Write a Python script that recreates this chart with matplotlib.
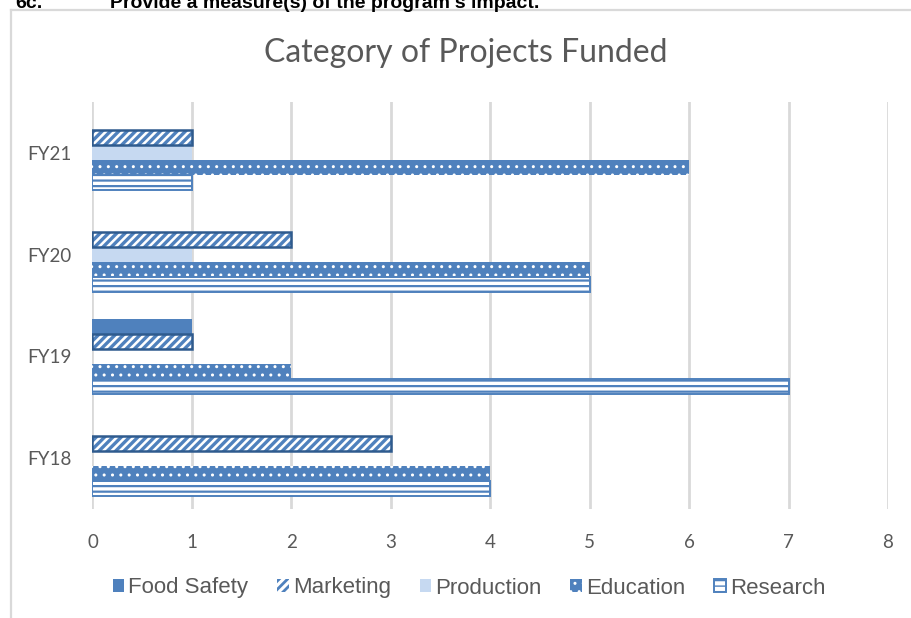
import matplotlib
matplotlib.use("Agg")
import matplotlib.pyplot as plt
from matplotlib.lines import Line2D
import numpy as np

# ---- data ----
categories = ["FY18", "FY19", "FY20", "FY21"]
series_names = ["Food Safety", "Marketing", "Production", "Education", "Research"]
food_safety = [0, 1, 0, 0]
marketing = [3, 1, 2, 1]
production = [0, 0, 1, 1]
education = [4, 2, 5, 6]
research = [4, 7, 5, 1]
x_ticks = [0, 1, 2, 3, 4, 5, 6, 7, 8]

title = "Category of Projects Funded"
header_num = "6c."
header_text = "Provide a measure(s) of the program\u2019s impact."

BLUE = "#4F81BD"
DARK = "#2F5B8E"
LIGHT = "#C6D9F1"
GRID = "#D9D9D9"
TXT = "#595959"

W, H = 912, 618
fig = plt.figure(figsize=(W / 100, H / 100), dpi=100)

ax_l, ax_r, ax_t, ax_b = 92.5, 888, 102, 509
ax = fig.add_axes([ax_l / W, 1 - ax_b / H, (ax_r - ax_l) / W, (ax_b - ax_t) / H])

y = np.arange(len(categories))
h = 0.147


def set_hlw(patches, lw):
    for p in patches:
        if hasattr(p, "set_hatch_linewidth"):
            p.set_hatch_linewidth(lw)
        else:
            p._hatch_linewidth = lw


handles = []
values = [food_safety, marketing, production, education, research]
for i, (name, vals) in enumerate(zip(series_names, values)):
    off = (2 - i) * h
    if name == "Food Safety":
        bars = ax.barh(y + off, vals, height=h, color=BLUE, linewidth=0, zorder=3)
    elif name == "Marketing":
        with plt.rc_context({"hatch.linewidth": 2.4}):
            bars = ax.barh(y + off, vals, height=h, color="white",
                           edgecolor=BLUE, linewidth=0, hatch="////", zorder=3)
        set_hlw(bars, 2.4)
        ax.barh(y + off, vals, height=h, facecolor="none",
                edgecolor=DARK, linewidth=1.8, zorder=4)
    elif name == "Production":
        bars = ax.barh(y + off, vals, height=h, color=LIGHT, linewidth=0, zorder=3)
    elif name == "Education":
        with plt.rc_context({"hatch.linewidth": 1.0}):
            bars = ax.barh(y + off, vals, height=h, color=BLUE,
                           edgecolor="white", linewidth=0, hatch="..", zorder=3)
        set_hlw(bars, 1.0)
    else:
        with plt.rc_context({"hatch.linewidth": 1.6}):
            bars = ax.barh(y + off, vals, height=h, color="white",
                           edgecolor=BLUE, linewidth=1.4, hatch="---", zorder=3)
        set_hlw(bars, 1.6)
    handles.append(bars)

ax.set_xlim(0, 8)
ax.set_ylim(-0.5, len(categories) - 0.5)
ax.set_xticks(x_ticks)
ax.set_yticks(y)
ax.set_yticklabels(categories)
for s in ax.spines.values():
    s.set_visible(False)
ax.grid(axis="x", color=GRID, linewidth=2.0, zorder=0)
ax.set_axisbelow(True)
ax.tick_params(axis="both", length=0, labelcolor=TXT, labelsize=13.5)
ax.tick_params(axis="x", pad=18)
ax.tick_params(axis="y", pad=15)
for lab in ax.get_xticklabels() + ax.get_yticklabels():
    lab.set_family("Lato")

fig.text(466 / W, 1 - 53 / H, title, ha="center", va="center",
         fontsize=23, color=TXT, family="Lato")

leg = fig.legend(handles, series_names, loc="center",
                 bbox_to_anchor=(469 / W, 1 - 588 / H), ncol=5, frameon=False,
                 prop={"family": "Liberation Sans", "size": 16},
                 handlelength=0.52, handleheight=0.52, handletextpad=0.18,
                 columnspacing=1.3, borderpad=0, borderaxespad=0)
for t in leg.get_texts():
    t.set_color(TXT)
lh = leg.legend_handles if hasattr(leg, "legend_handles") else leg.legendHandles
set_hlw([lh[1]], 2.0)

# outer frame (partially visible)
fig.add_artist(Line2D([11 / W, 11 / W], [0, 1 - 10 / H], transform=fig.transFigure,
                      color=GRID, linewidth=1.6))
fig.add_artist(Line2D([11 / W, 1], [1 - 10 / H, 1 - 10 / H], transform=fig.transFigure,
                      color=GRID, linewidth=1.6))

# header text, cut off at the top edge as in the source
fig.text(15 / W, 1 - 7.5 / H, header_num, ha="left", va="baseline",
         fontsize=14, fontweight="bold", family="Liberation Sans", color="black")
fig.text(110 / W, 1 - 7.5 / H, header_text, ha="left", va="baseline",
         fontsize=14, fontweight="bold", family="Liberation Sans", color="black")

fig.savefig("out.png", dpi=100)
